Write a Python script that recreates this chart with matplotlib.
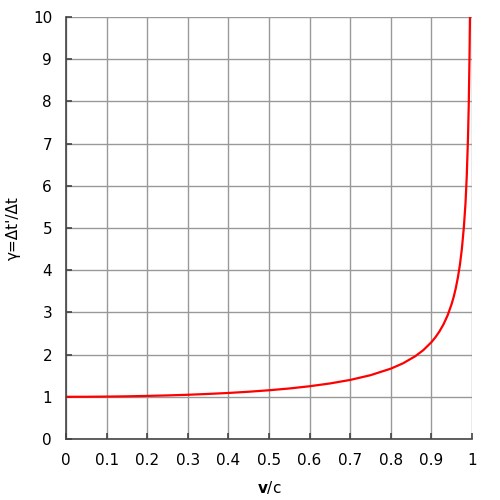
import matplotlib
matplotlib.use("Agg")
import matplotlib.pyplot as plt

v = [0, 0.05, 0.1, 0.15, 0.2, 0.25, 0.3, 0.35, 0.4, 0.45, 0.5, 0.55, 0.6, 0.65,
     0.7, 0.75, 0.8, 0.83, 0.86, 0.88, 0.9, 0.91, 0.92, 0.93, 0.94, 0.95, 0.955,
     0.96, 0.965, 0.97, 0.975, 0.98, 0.984, 0.987, 0.99, 0.992, 0.994, 0.995]
gamma = [1.000, 1.001, 1.005, 1.011, 1.021, 1.033, 1.048, 1.068, 1.091, 1.120,
         1.155, 1.197, 1.250, 1.316, 1.400, 1.512, 1.667, 1.793, 1.960, 2.105,
         2.294, 2.412, 2.552, 2.721, 2.931, 3.203, 3.371, 3.571, 3.815, 4.113,
         4.500, 5.025, 5.59, 6.21, 7.089, 7.92, 9.14, 10.01]

xticks = [0, 0.1, 0.2, 0.3, 0.4, 0.5, 0.6, 0.7, 0.8, 0.9, 1]
xticklabels = ["0", "0.1", "0.2", "0.3", "0.4", "0.5", "0.6", "0.7", "0.8", "0.9", "1"]
yticks = list(range(0, 11))

fig = plt.figure(figsize=(5, 5), dpi=100)
ax = fig.add_axes([0.132, 0.122, 0.812, 0.844])
ax.set_xlim(0, 1)
ax.set_ylim(0, 10)
ax.set_xticks(xticks)
ax.set_xticklabels(xticklabels)
ax.set_yticks(yticks)
ax.grid(True, color="#999999", linewidth=1.0)
ax.set_axisbelow(True)
ax.plot(v, gamma, color="#ff0000", linewidth=1.6, clip_on=True)

for s in ["top", "right"]:
    ax.spines[s].set_visible(False)
for s in ["left", "bottom"]:
    ax.spines[s].set_color("#444444")
    ax.spines[s].set_linewidth(1.2)
ax.tick_params(direction="in", length=4, width=1.2, color="#444444",
               labelsize=11, pad=10)
ax.set_xlabel(r"$\mathbf{v}$/c", fontsize=11, labelpad=8)
ax.set_ylabel("γ=Δt'/Δt", fontsize=11, labelpad=9)

fig.savefig("out.png", dpi=100)
